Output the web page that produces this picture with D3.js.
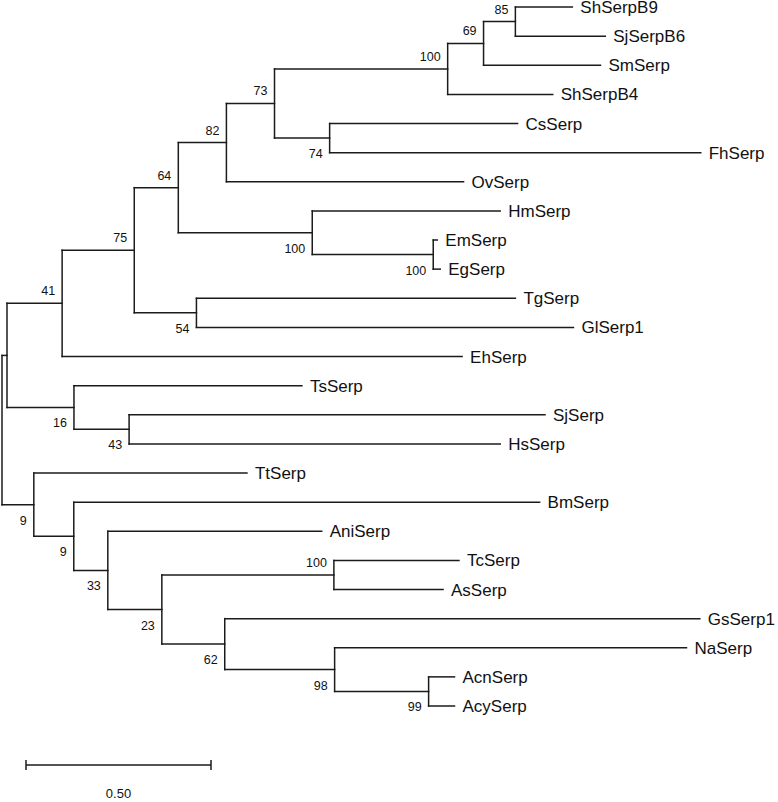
<!DOCTYPE html>
<html>
<head>
<meta charset="utf-8">
<script src="https://cdn.jsdelivr.net/npm/d3@7"></script>
<style>
  html, body { margin: 0; padding: 0; background: #fff; }
  svg { display: block; }
</style>
</head>
<body>
<svg id="chart" width="778" height="802"></svg>
<script>
// ---- Tree data (node id, parent id, branch length, bootstrap support) ----
const nodeIds = [
  "root", "nA", "n41", "n75", "n64", "n82", "n73", "n100a", "n69", "n85",
  "ShSerpB9", "SjSerpB6", "SmSerp", "ShSerpB4", "n74", "CsSerp", "FhSerp",
  "OvSerp", "n100b", "HmSerp", "n100c", "EmSerp", "EgSerp", "n54", "TgSerp",
  "GlSerp1", "EhSerp", "n16", "TsSerp", "n43", "SjSerp", "HsSerp", "n9a",
  "TtSerp", "n9b", "BmSerp", "n33", "AniSerp", "n23", "n100d", "TcSerp",
  "AsSerp", "n62", "GsSerp1", "n98", "NaSerp", "n99", "AcnSerp", "AcySerp"
];
const parentIds = [
  "", "root", "nA", "n41", "n75", "n64", "n82", "n73", "n100a", "n69",
  "n85", "n85", "n69", "n100a", "n73", "n74", "n74",
  "n82", "n64", "n100b", "n100b", "n100c", "n100c", "n75", "n54",
  "n54", "n41", "nA", "n16", "n16", "n43", "n43", "root",
  "n9a", "n9a", "n9b", "n9b", "n33", "n33", "n23", "n100d",
  "n100d", "n23", "n62", "n62", "n98", "n98", "n99", "n99"
];
const branchLengths = [
  0, 0.0135, 0.149, 0.195, 0.119, 0.130, 0.130, 0.468, 0.097, 0.086,
  0.154, 0.243, 0.316, 0.284, 0.149, 0.508, 1.003,
  0.641, 0.362, 0.508, 0.327, 0.011, 0.019, 0.168, 0.862,
  1.019, 1.081, 0.181, 0.616, 0.149, 1.124, 1.003, 0.086,
  0.576, 0.108, 1.259, 0.092, 0.578, 0.146, 0.465, 0.338,
  0.295, 0.170, 1.284, 0.297, 0.951, 0.254, 0.070, 0.070
];
const supportValues = [
  null, null, 41, 75, 64, 82, 73, 100, 69, 85,
  null, null, null, null, 74, null, null,
  null, 100, null, 100, null, null, 54, null,
  null, null, 16, null, 43, null, null, 9,
  null, 9, null, 33, null, 23, 100, null,
  null, 62, null, 98, null, 99, null, null
];
const scaleBarValue = 0.5;
const scaleBarLabel = "0.50";

// ---- Build hierarchy ----
const table = nodeIds.map((id, i) => ({
  id, parent: parentIds[i] || null, length: branchLengths[i], support: supportValues[i]
}));
const root = d3.stratify().id(d => d.id).parentId(d => d.parent)(table);
root.each(n => {
  n.dist = n.parent ? n.parent.dist + n.data.length : 0;
});

const leaves = root.leaves();
const x = d3.scaleLinear().domain([0, 1]).range([2, 372]);
const yLeaf = d3.scalePoint().domain(leaves.map(d => d.id)).range([7, 706]);

root.eachAfter(n => {
  if (!n.children) n.yPos = yLeaf(n.id);
  else n.yPos = (n.children[0].yPos + n.children[n.children.length - 1].yPos) / 2;
});

const svg = d3.select("#chart");
svg.append("rect").attr("width", 778).attr("height", 802).attr("fill", "#fff");

const lineColor = "#1b1b1b";
const g = svg.append("g");

// horizontal branches
g.selectAll("line.h").data(root.descendants().filter(n => n.parent))
  .join("line").attr("class", "h")
  .attr("x1", n => x(n.parent.dist)).attr("x2", n => x(n.dist))
  .attr("y1", n => n.yPos).attr("y2", n => n.yPos)
  .attr("stroke", lineColor).attr("stroke-width", 1.5).attr("stroke-linecap", "square");

// vertical connectors
g.selectAll("line.v").data(root.descendants().filter(n => n.children))
  .join("line").attr("class", "v")
  .attr("x1", n => x(n.dist)).attr("x2", n => x(n.dist))
  .attr("y1", n => n.children[0].yPos)
  .attr("y2", n => n.children[n.children.length - 1].yPos)
  .attr("stroke", lineColor).attr("stroke-width", 1.5).attr("stroke-linecap", "square");

// leaf labels
g.selectAll("text.leaf").data(leaves)
  .join("text").attr("class", "leaf")
  .attr("x", n => x(n.dist) + 8)
  .attr("y", n => n.yPos + 6)
  .attr("font-family", "Liberation Sans, Arial, sans-serif")
  .attr("font-size", 17)
  .attr("fill", "#111")
  .text(n => n.id);

// bootstrap labels
g.selectAll("text.sup").data(root.descendants().filter(n => n.data.support != null))
  .join("text").attr("class", "sup")
  .attr("x", n => x(n.dist) - 7)
  .attr("y", n => {
    const above = n.parent && n.parent.children[0] === n;
    return above ? n.yPos - 8 : n.yPos + 20;
  })
  .attr("text-anchor", "end")
  .attr("font-family", "Liberation Sans, Arial, sans-serif")
  .attr("font-size", 12.5)
  .attr("fill", "#111")
  .text(n => n.data.support);

// scale bar
const barX0 = 26, barY = 765;
const barLen = x(scaleBarValue) - x(0);
const sb = svg.append("g");
sb.append("line").attr("x1", barX0).attr("x2", barX0 + barLen).attr("y1", barY).attr("y2", barY)
  .attr("stroke", lineColor).attr("stroke-width", 1.5);
[barX0, barX0 + barLen].forEach(px => {
  sb.append("line").attr("x1", px).attr("x2", px).attr("y1", barY - 5).attr("y2", barY + 5)
    .attr("stroke", lineColor).attr("stroke-width", 1.5);
});
sb.append("text").attr("x", barX0 + barLen / 2).attr("y", 798)
  .attr("text-anchor", "middle")
  .attr("font-family", "Liberation Sans, Arial, sans-serif")
  .attr("font-size", 13).attr("fill", "#111")
  .text(scaleBarLabel);
</script>
</body>
</html>
